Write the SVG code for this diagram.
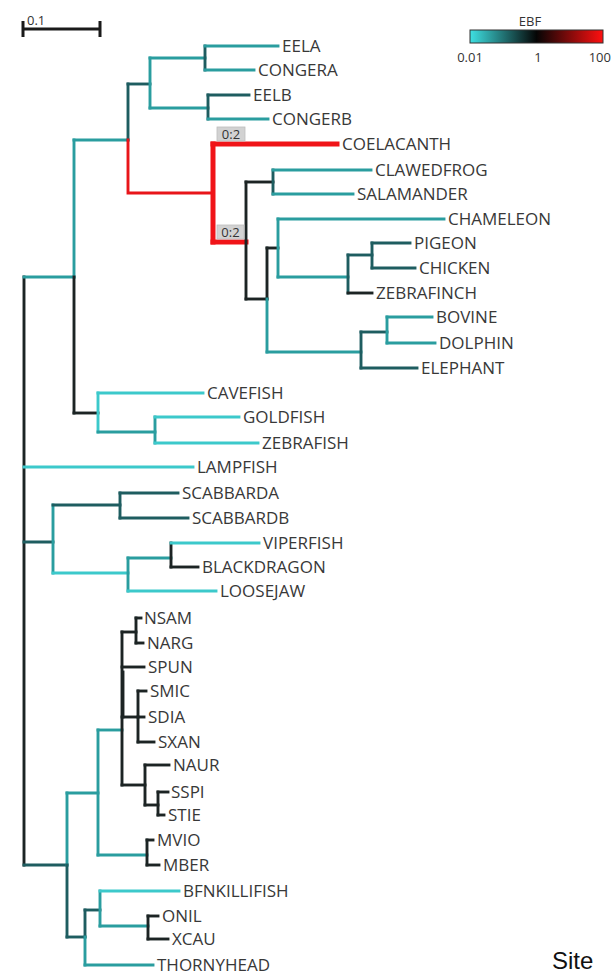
<svg xmlns="http://www.w3.org/2000/svg" width="612" height="976" viewBox="0 0 612 976">
<defs>
<linearGradient id="ebf" x1="0" y1="0" x2="1" y2="0">
<stop offset="0" stop-color="#3ee0e2"/>
<stop offset="0.5" stop-color="#050505"/>
<stop offset="1" stop-color="#ff1010"/>
</linearGradient>
</defs>
<style>
.b{fill:none;stroke-width:2.9;stroke-linecap:square}
.t{stroke:#2a9d9f}
.c{stroke:#3cc9cb}
.d{stroke:#1e5d60}
.k{stroke:#1c2424}
.r{stroke:#e8151a}
.rt{stroke:#f01418;stroke-width:5}
.lab{font-family:"Open Sans","Liberation Sans",sans-serif;font-size:17px;fill:#383838}
.sm{font-family:"Open Sans","Liberation Sans",sans-serif;font-size:13px;fill:#333}
.bx{fill:#d2d2d2;stroke:#bdbdbd;stroke-width:0.8}
</style>
<rect width="612" height="976" fill="#ffffff"/>

<g id="scalebar">
<path d="M23 29 H100 M23 21 V37 M100 21 V37" stroke="#1a1a1a" stroke-width="3" fill="none"/>
<text x="27" y="25" class="sm" font-size="13">0.1</text>
</g>

<g id="legend">
<text x="530" y="26" class="sm" font-size="14" text-anchor="middle">EBF</text>
<rect x="470" y="30" width="133" height="13" fill="url(#ebf)" stroke="#333" stroke-width="1"/>
<text x="470" y="62" class="sm" font-size="15" text-anchor="middle">0.01</text>
<text x="538" y="62" class="sm" font-size="15" text-anchor="middle">1</text>
<text x="611" y="62" class="sm" font-size="15" text-anchor="end">100</text>
</g>

<g id="connectors">
<path class="b k" d="M24 277 V865"/>
<path class="b t" d="M24 277 H74"/>
<path class="b t" d="M74 140 V277"/>
<path class="b k" d="M74 277 V413"/>
<path class="b t" d="M74 140 H128"/>
<path class="b d" d="M128 84 V140"/>
<path class="b r" d="M128 140 V193 H213"/>
<path class="b d" d="M128 84 H150"/>
<path class="b t" d="M150 58 V108"/>
<path class="b t" d="M150 58 H205"/>
<path class="b t" d="M150 108 H208"/>
<path class="b d" d="M205 46 V70"/>
<path class="b t" d="M205 46 H278"/>
<path class="b t" d="M205 70 H254"/>
<path class="b d" d="M208 95 V119"/>
<path class="b d" d="M208 95 H249"/>
<path class="b t" d="M208 119 H268"/>
<path class="b rt" d="M213 144 V242"/>
<path class="b rt" d="M213 144 H337"/>
<path class="b rt" d="M213 242 H246"/>
<path class="b k" d="M246 182 V299"/>
<path class="b k" d="M246 182 H273"/>
<path class="b d" d="M273 170 V194"/>
<path class="b t" d="M273 170 H371"/>
<path class="b t" d="M273 194 H353"/>
<path class="b k" d="M246 299 H267"/>
<path class="b k" d="M267 248 V299"/>
<path class="b t" d="M267 299 V352"/>
<path class="b k" d="M267 248 H278"/>
<path class="b t" d="M278 219 V277"/>
<path class="b t" d="M278 219 H444"/>
<path class="b t" d="M278 277 H348"/>
<path class="b d" d="M348 255 V293"/>
<path class="b d" d="M348 255 H372"/>
<path class="b d" d="M372 243 V268"/>
<path class="b d" d="M372 243 H410"/>
<path class="b d" d="M372 268 H415"/>
<path class="b k" d="M348 293 H372"/>
<path class="b t" d="M267 352 H361"/>
<path class="b d" d="M361 332 V368"/>
<path class="b d" d="M361 332 H387"/>
<path class="b t" d="M387 317 V343"/>
<path class="b t" d="M387 317 H432"/>
<path class="b t" d="M387 343 H435"/>
<path class="b d" d="M361 368 H417"/>
<path class="b k" d="M74 413 H98"/>
<path class="b c" d="M98 393 V432"/>
<path class="b c" d="M98 393 H203"/>
<path class="b t" d="M98 432 H155"/>
<path class="b t" d="M155 417 V443"/>
<path class="b c" d="M155 417 H239"/>
<path class="b c" d="M155 443 H258"/>
<path class="b c" d="M24 467 H193"/>
<path class="b d" d="M24 542 H53"/>
<path class="b t" d="M53 505 V573"/>
<path class="b d" d="M53 505 H120"/>
<path class="b d" d="M120 493 V518"/>
<path class="b d" d="M120 493 H178"/>
<path class="b d" d="M120 518 H188"/>
<path class="b c" d="M53 573 H128"/>
<path class="b t" d="M128 558 V591"/>
<path class="b t" d="M128 558 H171"/>
<path class="b k" d="M171 543 V567"/>
<path class="b c" d="M171 543 H259"/>
<path class="b k" d="M171 567 H198"/>
<path class="b c" d="M128 591 H216"/>
<path class="b d" d="M24 865 H67"/>
<path class="b t" d="M67 793 V865"/>
<path class="b d" d="M67 865 V937"/>
<path class="b t" d="M67 793 H98"/>
<path class="b t" d="M98 730 V855"/>
<path class="b t" d="M98 730 H122"/>
<path class="b k" d="M122 632 V785"/>
<path class="b k" d="M123 672 V717" stroke-width="4.5"/>
<path class="b k" d="M122 632 H136"/>
<path class="b k" d="M136 618 V643"/>
<path class="b k" d="M136 618 H141"/>
<path class="b k" d="M136 643 H143"/>
<path class="b k" d="M122 667 H144"/>
<path class="b k" d="M122 717 H138"/>
<path class="b k" d="M138 691 V742"/>
<path class="b k" d="M138 691 H146"/>
<path class="b k" d="M138 717 H144"/>
<path class="b k" d="M138 742 H154"/>
<path class="b k" d="M122 785 H145"/>
<path class="b k" d="M145 765 V805"/>
<path class="b k" d="M145 765 H169"/>
<path class="b k" d="M145 805 H158"/>
<path class="b k" d="M158 792 V815"/>
<path class="b k" d="M158 792 H168"/>
<path class="b k" d="M158 815 H164"/>
<path class="b t" d="M98 855 H147"/>
<path class="b k" d="M147 840 V865"/>
<path class="b k" d="M147 840 H153"/>
<path class="b k" d="M147 865 H159"/>
<path class="b d" d="M67 937 H85"/>
<path class="b d" d="M85 910 V937"/>
<path class="b t" d="M85 937 V965"/>
<path class="b d" d="M85 910 H100"/>
<path class="b t" d="M100 891 V926"/>
<path class="b c" d="M100 891 H179"/>
<path class="b t" d="M100 926 H148"/>
<path class="b k" d="M148 916 V939"/>
<path class="b k" d="M148 916 H158"/>
<path class="b k" d="M148 939 H168"/>
<path class="b t" d="M85 965 H153"/>
</g>

<g id="ebf-labels">
<rect class="bx" x="217" y="127" width="28" height="14"/>
<text x="231" y="138.5" class="sm" font-size="12.5" text-anchor="middle">0:2</text>
<rect class="bx" x="217" y="225" width="27" height="14"/>
<text x="230.5" y="236.5" class="sm" font-size="12.5" text-anchor="middle">0:2</text>
</g>

<g id="n-EELA"><text class="lab" x="282" y="52">EELA</text></g>
<g id="n-CONGERA"><text class="lab" x="258" y="76">CONGERA</text></g>
<g id="n-EELB"><text class="lab" x="253" y="101">EELB</text></g>
<g id="n-CONGERB"><text class="lab" x="272" y="125">CONGERB</text></g>
<g id="n-COELACANTH"><text class="lab" x="342" y="150">COELACANTH</text></g>
<g id="n-CLAWEDFROG"><text class="lab" x="375" y="176">CLAWEDFROG</text></g>
<g id="n-SALAMANDER"><text class="lab" x="357" y="200">SALAMANDER</text></g>
<g id="n-CHAMELEON"><text class="lab" x="448" y="225">CHAMELEON</text></g>
<g id="n-PIGEON"><text class="lab" x="414" y="249">PIGEON</text></g>
<g id="n-CHICKEN"><text class="lab" x="419" y="274">CHICKEN</text></g>
<g id="n-ZEBRAFINCH"><text class="lab" x="376" y="299">ZEBRAFINCH</text></g>
<g id="n-BOVINE"><text class="lab" x="436" y="323">BOVINE</text></g>
<g id="n-DOLPHIN"><text class="lab" x="439" y="349">DOLPHIN</text></g>
<g id="n-ELEPHANT"><text class="lab" x="421" y="374">ELEPHANT</text></g>
<g id="n-CAVEFISH"><text class="lab" x="207" y="399">CAVEFISH</text></g>
<g id="n-GOLDFISH"><text class="lab" x="243" y="423">GOLDFISH</text></g>
<g id="n-ZEBRAFISH"><text class="lab" x="262" y="449">ZEBRAFISH</text></g>
<g id="n-LAMPFISH"><text class="lab" x="197" y="473">LAMPFISH</text></g>
<g id="n-SCABBARDA"><text class="lab" x="182" y="499">SCABBARDA</text></g>
<g id="n-SCABBARDB"><text class="lab" x="192" y="524">SCABBARDB</text></g>
<g id="n-VIPERFISH"><text class="lab" x="263" y="549">VIPERFISH</text></g>
<g id="n-BLACKDRAGON"><text class="lab" x="202" y="573">BLACKDRAGON</text></g>
<g id="n-LOOSEJAW"><text class="lab" x="220" y="597">LOOSEJAW</text></g>
<g id="n-NSAM"><text class="lab" x="144" y="624">NSAM</text></g>
<g id="n-NARG"><text class="lab" x="147" y="649">NARG</text></g>
<g id="n-SPUN"><text class="lab" x="148" y="673">SPUN</text></g>
<g id="n-SMIC"><text class="lab" x="150" y="697">SMIC</text></g>
<g id="n-SDIA"><text class="lab" x="148" y="723">SDIA</text></g>
<g id="n-SXAN"><text class="lab" x="158" y="748">SXAN</text></g>
<g id="n-NAUR"><text class="lab" x="173" y="771">NAUR</text></g>
<g id="n-SSPI"><text class="lab" x="171" y="798">SSPI</text></g>
<g id="n-STIE"><text class="lab" x="168" y="821">STIE</text></g>
<g id="n-MVIO"><text class="lab" x="157" y="846">MVIO</text></g>
<g id="n-MBER"><text class="lab" x="163" y="871">MBER</text></g>
<g id="n-BFNKILLIFISH"><text class="lab" x="183" y="897">BFNKILLIFISH</text></g>
<g id="n-ONIL"><text class="lab" x="162" y="922">ONIL</text></g>
<g id="n-XCAU"><text class="lab" x="172" y="945">XCAU</text></g>
<g id="n-THORNYHEAD"><text class="lab" x="157" y="971">THORNYHEAD</text></g>

<g id="site"><text x="552" y="969" font-family="Liberation Sans, Arial, sans-serif" font-size="24" fill="#111">Site</text></g>
</svg>
